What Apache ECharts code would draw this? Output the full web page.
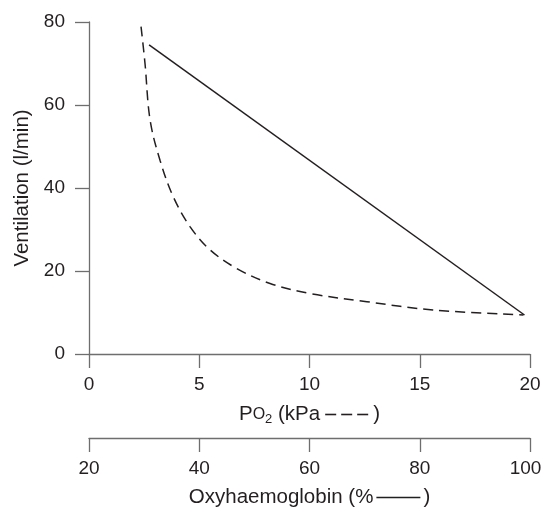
<!DOCTYPE html>
<html><head><meta charset="utf-8">
<script src="https://cdn.jsdelivr.net/npm/echarts@6/dist/echarts.min.js"></script>
<style>html,body{margin:0;padding:0;background:#fff;overflow:hidden}#c{width:542px;height:508px}</style>
</head><body><div id="c"></div>
<script>
// Dashed curve: ventilation vs PO2 (kPa)
const po2Values = [2.36, 2.54, 2.77, 3.22, 3.82, 4.58, 5.49, 6.70, 8.21, 10.0, 12.6, 15.6, 19.7];
const ventVsPo2 = [78.9, 70.0, 56.4, 46.7, 37.9, 30.7, 25.1, 20.6, 17.0, 14.6, 12.6, 10.6, 9.4];
// Solid line: ventilation vs oxyhaemoglobin (%)
const hbValues = [30.9, 99.0];
const ventVsHb = [74.5, 9.4];
const po2Ticks = [0, 5, 10, 15, 20];
const hbTicks = [20, 40, 60, 80, 100];
const ventTicks = [0, 20, 40, 60, 80];

const font = 'Liberation Sans, Arial, sans-serif';
const fs = 19;
const nfs = 20.5;
const axisCol = '#6e6e6e';
const txtCol = '#231f20';
const dashTok = {width: 11, height: 1.6, lineHeight: 1.6, backgroundColor: txtCol, fontSize: 1, verticalAlign: 'middle'};
const gapTok = {width: 5, fontSize: 1};
const chart = echarts.init(document.getElementById('c'));
chart.setOption({
  animation: false,
  backgroundColor: '#fff',
  grid: {left: 89, right: 12, top: 22, bottom: 154, containLabel: false, outerBoundsMode: 'none'},
  xAxis: [{
    type: 'value', min: po2Ticks[0], max: po2Ticks[po2Ticks.length-1], interval: 5,
    position: 'bottom',
    axisLine: {show: true, onZero: false, lineStyle: {color: axisCol, width: 1.3}},
    axisTick: {show: true, length: 14, lineStyle: {color: axisCol, width: 1.3}},
    axisLabel: {color: txtCol, fontSize: fs, fontFamily: font, margin: 21},
    splitLine: {show: false},
    name: '{n|P}{s|O}{sub|2}{n| (kPa}{g| }{d| }{g| }{d| }{g| }{d| }{g| }{n|)}',
    nameLocation: 'middle', nameGap: 49,
    nameTextStyle: {color: txtCol, fontFamily: font, rich: {
      n: {fontSize: nfs, fontFamily: font, color: txtCol},
      s: {fontSize: 16, fontFamily: font, color: txtCol},
      sub: {fontSize: 13, fontFamily: font, color: txtCol, verticalAlign: 'bottom', padding: [10,0,0,0]},
      d: dashTok, g: gapTok
    }}
  }, {
    type: 'value', min: hbTicks[0], max: hbTicks[hbTicks.length-1], interval: 20,
    position: 'bottom', offset: 84,
    axisLine: {show: true, onZero: false, lineStyle: {color: axisCol, width: 1.3}},
    axisTick: {show: true, length: 14, lineStyle: {color: axisCol, width: 1.3}},
    axisLabel: {color: txtCol, fontSize: fs, fontFamily: font, margin: 21,
      formatter: v => v === 100 ? '{r|' + v + '}' : String(v),
      rich: {r: {fontSize: fs, fontFamily: font, color: txtCol, padding: [0, 9, 0, 0]}}},
    splitLine: {show: false},
    name: '{n|Oxyhaemoglobin (%}{g| }{L| }{g| }{n|)}',
    nameLocation: 'middle', nameGap: 49,
    nameTextStyle: {color: txtCol, fontSize: nfs, fontFamily: font, rich: {
      n: {fontSize: nfs, fontFamily: font, color: txtCol},
      L: {width: 44, height: 1.6, lineHeight: 1.6, backgroundColor: txtCol, fontSize: 1, verticalAlign: 'middle'},
      g: {width: 3, fontSize: 1}
    }}
  }],
  yAxis: {
    type: 'value', min: ventTicks[0], max: ventTicks[ventTicks.length-1], interval: 20,
    axisLine: {show: true, onZero: false, lineStyle: {color: axisCol, width: 1.3}},
    axisTick: {show: true, length: 14, lineStyle: {color: axisCol, width: 1.3}},
    axisLabel: {color: txtCol, fontSize: fs, fontFamily: font, margin: 24},
    splitLine: {show: false},
    name: 'Ventilation (l/min)', nameLocation: 'middle', nameGap: 56,
    nameTextStyle: {color: txtCol, fontSize: nfs, fontFamily: font}
  },
  series: [{
    type: 'line', xAxisIndex: 0, symbol: 'none', smooth: 0.35,
    data: po2Values.map((x, i) => [x, ventVsPo2[i]]),
    lineStyle: {color: '#231f20', width: 1.5, type: [10, 6]}
  }, {
    type: 'line', xAxisIndex: 1, symbol: 'none',
    data: hbValues.map((x, i) => [x, ventVsHb[i]]),
    lineStyle: {color: '#231f20', width: 1.5, type: 'solid'}
  }]
});
</script></body></html>
